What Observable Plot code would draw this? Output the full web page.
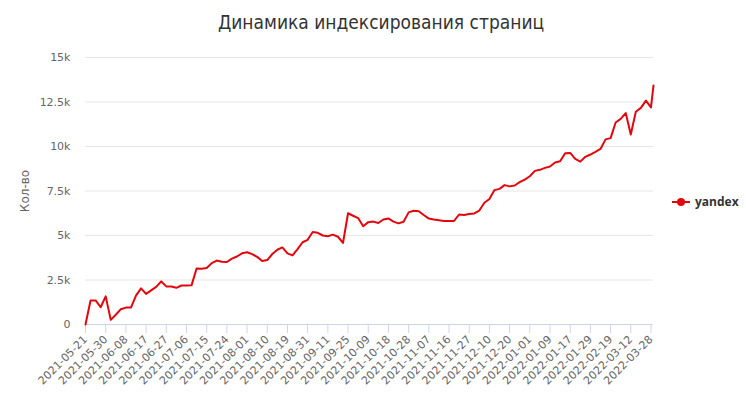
<!DOCTYPE html>
<html>
<head>
<meta charset="utf-8">
<script src="https://cdn.jsdelivr.net/npm/d3@7"></script>
<script src="https://cdn.jsdelivr.net/npm/@observablehq/plot@0.6"></script>
<style>
  body { margin: 0; background: #fff; }
  #wrap { position: relative; width: 746px; height: 393px; font-family: "DejaVu Sans", sans-serif; }
  #title { width: 730px; padding-left: 16px; height: 44px; line-height: 44px; text-align: center;
           font-family: "Liberation Sans Narrow", "DejaVu Sans Condensed", sans-serif; font-size: 19px; color: #333; }
  #legend { position: absolute; left: 671px; top: 193px; display: flex; align-items: center;
            font-family: "Open Sans", sans-serif; font-size: 12px; font-weight: bold; color: #333; }
  #legend svg { margin-right: 4px; }
</style>
</head>
<body>
<div id="wrap">
  <div id="title">Динамика индексирования страниц</div>
  <div id="chart"></div>
  <div id="legend"></div>
</div>
<script>
// X tick labels (every 8th category)
const tickLabels = [
  "2021-05-21","2021-05-30","2021-06-08","2021-06-17","2021-06-27","2021-07-06","2021-07-15",
  "2021-07-24","2021-08-01","2021-08-10","2021-08-19","2021-08-31","2021-09-11","2021-09-25",
  "2021-10-09","2021-10-18","2021-10-28","2021-11-07","2021-11-16","2021-11-27","2021-12-10",
  "2021-12-20","2022-01-01","2022-01-09","2022-01-17","2022-01-29","2022-02-19","2022-03-12",
  "2022-03-28"
];
// yandex series, sampled every 2nd category (last value = last category)
const yandex = [
  0, 1350, 1350, 970, 1580, 260, 550, 860, 950, 950,
  1620, 2030, 1720, 1920, 2110, 2420, 2140, 2130, 2060, 2190,
  2190, 2200, 3150, 3130, 3170, 3450, 3590, 3530, 3510, 3700,
  3820, 4000, 4060, 3950, 3800, 3570, 3620, 3960, 4200, 4330,
  4000, 3880, 4230, 4620, 4760, 5200, 5150, 5000, 4960, 5050,
  4930, 4580, 6250, 6110, 5980, 5520, 5750, 5780, 5700, 5900,
  5960, 5780, 5680, 5770, 6300, 6390, 6360, 6150, 5950, 5900,
  5860, 5820, 5820, 5820, 6180, 6150, 6210, 6240, 6400, 6840,
  7050, 7550, 7620, 7830, 7760, 7810, 8000, 8140, 8330, 8630,
  8690, 8800, 8880, 9100, 9170, 9620, 9640, 9300, 9150, 9420,
  9550, 9700, 9860, 10400, 10470, 11350, 11550, 11880, 10670, 11950,
  12170, 12580, 12200, 13430
];
const yTicks = [0, 2500, 5000, 7500, 10000, 12500, 15000];
const yTitle = "Кол-во";
const seriesName = "yandex";
const SAMPLE_STEP = 2, LABEL_STEP = 8, LAST_CATEGORY = 225;
const lineColor = "#e3070d";

const data = yandex.map((v, j) => ({c: Math.min(j * SAMPLE_STEP, LAST_CATEGORY), v}));
const xTicks = tickLabels.map((_, i) => i * LABEL_STEP);

const chart = Plot.plot({
  width: 746,
  height: 349,
  marginLeft: 85,
  marginRight: 93,
  marginTop: 13,
  marginBottom: 69,
  x: {domain: [0, LAST_CATEGORY]},
  y: {domain: [0, 15000]},
  style: {fontFamily: "DejaVu Sans, sans-serif", fontSize: "11px", color: "#666", background: "#fff"},
  marks: [
    Plot.gridY(yTicks, {stroke: "#e6e6e6", strokeOpacity: 1}),
    Plot.axisY(yTicks, {
      tickSize: 0, tickPadding: 15, fill: "#666",
      tickFormat: d => d === 0 ? "0" : (d / 1000) + "k",
      label: null
    }),
    Plot.text([yTitle], {frameAnchor: "left", textAnchor: "middle", rotate: -90, dx: -60, fontSize: 12, fill: "#666"}),
    Plot.axisX(xTicks, {
      tickSize: 9, stroke: "#ccd6eb", strokeOpacity: 1, fill: "#666", tickRotate: -45,
      tickPadding: 4, tickFormat: d => tickLabels[d / LABEL_STEP], label: null
    }),
    Plot.ruleY([0], {stroke: "#ccd6eb"}),
    Plot.line(data, {x: "c", y: "v", stroke: lineColor, strokeWidth: 2})
  ]
});
document.getElementById("chart").appendChild(chart);

const legend = document.getElementById("legend");
legend.innerHTML = `<svg width="20" height="12"><line x1="1" x2="19" y1="6" y2="6" stroke="${lineColor}" stroke-width="2"/><circle cx="10" cy="6" r="4" fill="${lineColor}"/></svg><span>${seriesName}</span>`;
</script>
</body>
</html>
